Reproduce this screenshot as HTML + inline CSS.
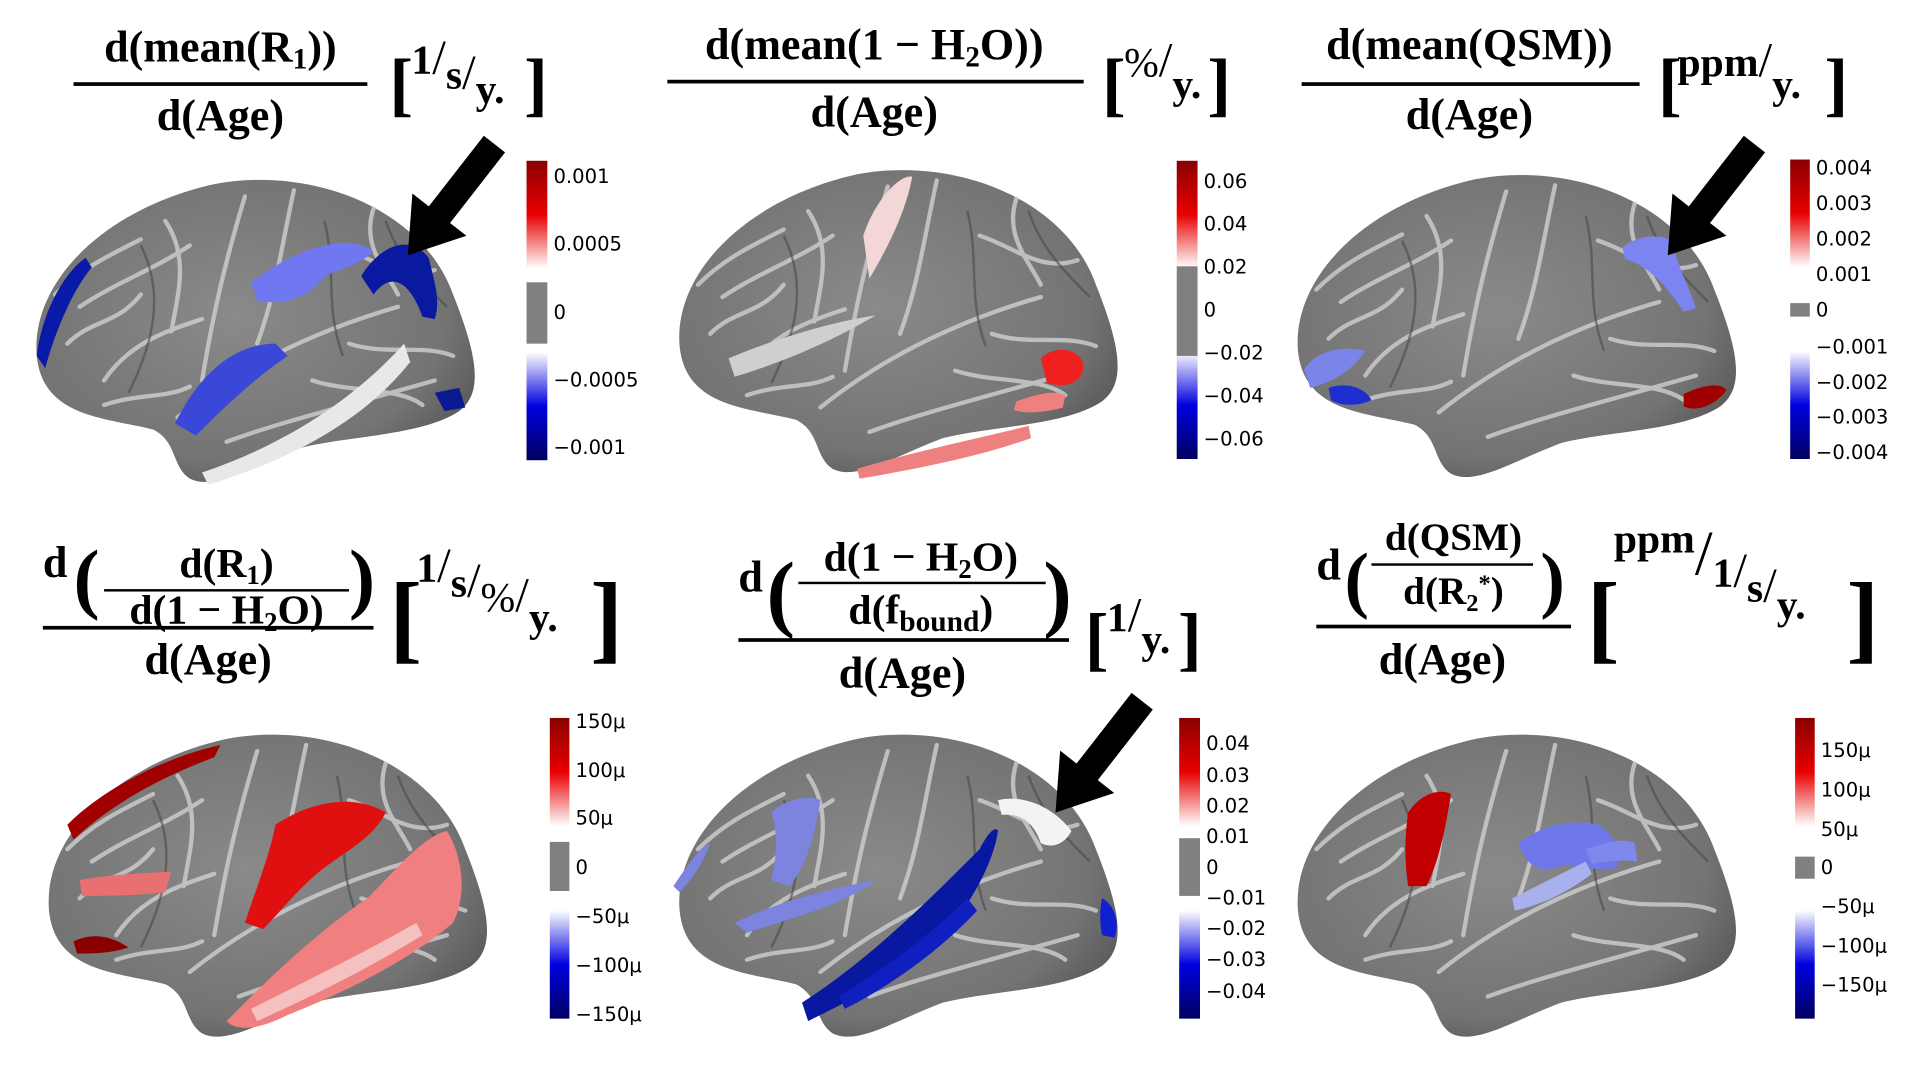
<!DOCTYPE html>
<html><head><meta charset="utf-8"><style>
html,body{margin:0;padding:0;background:#fff;width:1920px;height:1080px;overflow:hidden}
svg{display:block}
.t{font-family:"Liberation Serif",serif;font-weight:bold;fill:#000}
.c{font-family:"DejaVu Sans","Liberation Sans",sans-serif;font-size:16px;fill:#000}
</style></head><body>
<svg width="1920" height="1080" viewBox="0 0 1568 880" preserveAspectRatio="none" xmlns="http://www.w3.org/2000/svg">
<defs>
<radialGradient id="bg" cx="45%" cy="45%" r="60%">
<stop offset="0" stop-color="#8a8a8a"/><stop offset="0.8" stop-color="#747474"/><stop offset="1" stop-color="#5e5e5e"/></radialGradient>
<linearGradient id="cb" x1="0" y1="0" x2="0" y2="1">
<stop offset="0" stop-color="#8a0000"/><stop offset="0.18" stop-color="#e80000"/><stop offset="0.36" stop-color="#ffffff"/>
<stop offset="0.64" stop-color="#ffffff"/><stop offset="0.82" stop-color="#0000e0"/><stop offset="1" stop-color="#000060"/></linearGradient>
<g id="brain">
<path d="M5,150 C0,90 60,30 150,10 C230,-5 320,30 345,100 C365,150 370,180 350,195 C320,215 260,215 220,225 C180,240 150,260 130,250 C115,240 120,220 100,210 C60,200 10,200 5,150 Z" fill="url(#bg)"/>
<g fill="none" stroke="#d0d0d0" stroke-width="3.5" stroke-linecap="round" opacity="0.8">
<path d="M120,200 C170,160 230,130 300,110"/>
<path d="M175,20 C160,70 150,110 140,170"/>
<path d="M215,15 C205,60 200,100 185,140"/>
<path d="M40,110 C70,90 100,80 130,60"/>
<path d="M60,170 C80,140 110,130 140,120"/>
<path d="M250,60 C280,70 300,90 330,80"/>
<path d="M160,220 C200,205 260,190 330,170"/>
<path d="M30,140 C50,120 70,125 90,100"/>
<path d="M260,140 C290,150 320,140 345,150"/>
<path d="M20,100 C40,80 60,70 90,55"/>
<path d="M110,40 C130,70 120,100 115,130"/>
<path d="M230,170 C260,180 300,175 320,190"/>
<path d="M280,30 C270,60 290,80 300,100"/>
<path d="M60,190 C90,180 110,185 130,175"/>
</g>
<g fill="none" stroke="#4a4a4a" stroke-width="2" opacity="0.6">
<path d="M90,60 C110,100 100,140 80,180"/>
<path d="M240,40 C250,80 240,110 255,150"/>
<path d="M290,40 C300,70 320,90 340,110"/>
</g>
</g>
<g id="arrow"><path d="M0,0 L-28,-42 L-11,-42 L-11,-115 L11,-115 L11,-42 L28,-42 Z" fill="#000"/></g>
</defs>
<rect width="1568" height="880" fill="#fff"/>

<!-- Titles row 1 -->
<text class="t" x="180" y="50" font-size="36" text-anchor="middle">d(mean(R<tspan font-size="24" dy="6">1</tspan><tspan dy="-6">))</tspan></text>
<rect x="60" y="67" width="240" height="3" fill="#000"/>
<text class="t" x="180" y="106" font-size="36" text-anchor="middle">d(Age)</text>
<text class="t" x="318" y="88" font-size="58" font-weight="normal">[</text>
<text class="t" x="336" y="60" font-size="34"><tspan>1</tspan><tspan font-weight="normal" font-size="40">/</tspan><tspan dy="12">s</tspan><tspan font-weight="normal" font-size="40" dy="0">/</tspan><tspan dy="12">y.</tspan></text>
<text class="t" x="428" y="88" font-size="58" font-weight="normal">]</text>

<text class="t" x="714" y="48" font-size="36" text-anchor="middle">d(mean(1 − H<tspan font-size="24" dy="6">2</tspan><tspan dy="-6">O))</tspan></text>
<rect x="545" y="65" width="340" height="3" fill="#000"/>
<text class="t" x="714" y="103" font-size="36" text-anchor="middle">d(Age)</text>
<text class="t" x="900" y="88" font-size="58" font-weight="normal">[</text>
<text class="t" x="918" y="62" font-size="34"><tspan font-weight="normal">%</tspan><tspan font-weight="normal" font-size="40">/</tspan><tspan dy="18">y.</tspan></text>
<text class="t" x="986" y="88" font-size="58" font-weight="normal">]</text>

<text class="t" x="1200" y="48" font-size="36" text-anchor="middle">d(mean(QSM))</text>
<rect x="1063" y="67" width="276" height="3" fill="#000"/>
<text class="t" x="1200" y="105" font-size="36" text-anchor="middle">d(Age)</text>
<text class="t" x="1354" y="88" font-size="58" font-weight="normal">[</text>
<text class="t" x="1370" y="62" font-size="34"><tspan>ppm</tspan><tspan font-weight="normal" font-size="40">/</tspan><tspan dy="18">y.</tspan></text>
<text class="t" x="1490" y="88" font-size="58" font-weight="normal">]</text>

<!-- Titles row 2 -->
<text class="t" x="35" y="470" font-size="36">d</text>
<text class="t" x="60" y="492" font-size="64" font-weight="normal">(</text>
<text class="t" x="185" y="470" font-size="34" text-anchor="middle">d(R<tspan font-size="22" dy="6">1</tspan><tspan dy="-6">)</tspan></text>
<rect x="85" y="480" width="200" height="2" fill="#000"/>
<text class="t" x="185" y="508" font-size="34" text-anchor="middle">d(1 − H<tspan font-size="22" dy="6">2</tspan><tspan dy="-6">O)</tspan></text>
<text class="t" x="285" y="492" font-size="64" font-weight="normal">)</text>
<rect x="35" y="510" width="270" height="3" fill="#000"/>
<text class="t" x="170" y="549" font-size="36" text-anchor="middle">d(Age)</text>
<text class="t" x="318" y="530" font-size="80" font-weight="normal">[</text>
<text class="t" x="340" y="474" font-size="34"><tspan>1</tspan><tspan font-weight="normal" font-size="40">/</tspan><tspan dy="12">s</tspan><tspan font-weight="normal" font-size="40">/</tspan><tspan dy="12" font-weight="normal">%</tspan><tspan font-weight="normal" font-size="40">/</tspan><tspan dy="16">y.</tspan></text>
<text class="t" x="482" y="530" font-size="80" font-weight="normal">]</text>

<text class="t" x="603" y="482" font-size="36">d</text>
<text class="t" x="626" y="506" font-size="70" font-weight="normal">(</text>
<text class="t" x="752" y="465" font-size="34" text-anchor="middle">d(1 − H<tspan font-size="22" dy="6">2</tspan><tspan dy="-6">O)</tspan></text>
<rect x="652" y="474" width="202" height="2" fill="#000"/>
<text class="t" x="752" y="508" font-size="34" text-anchor="middle">d(f<tspan font-size="24" dy="6">bound</tspan><tspan dy="-6">)</tspan></text>
<text class="t" x="852" y="506" font-size="70" font-weight="normal">)</text>
<rect x="603" y="520" width="270" height="3" fill="#000"/>
<text class="t" x="737" y="560" font-size="36" text-anchor="middle">d(Age)</text>
<text class="t" x="886" y="540" font-size="58" font-weight="normal">[</text>
<text class="t" x="904" y="514" font-size="34"><tspan>1</tspan><tspan font-weight="normal" font-size="40">/</tspan><tspan dy="18">y.</tspan></text>
<text class="t" x="962" y="540" font-size="58" font-weight="normal">]</text>

<text class="t" x="1075" y="472" font-size="36">d</text>
<text class="t" x="1098" y="492" font-size="60" font-weight="normal">(</text>
<text class="t" x="1187" y="448" font-size="32" text-anchor="middle">d(QSM)</text>
<rect x="1120" y="459" width="132" height="2" fill="#000"/>
<text class="t" x="1187" y="492" font-size="32" text-anchor="middle">d(R<tspan font-size="20" dy="6">2</tspan><tspan font-size="20" dy="-16">*</tspan><tspan dy="10">)</tspan></text>
<text class="t" x="1258" y="492" font-size="60" font-weight="normal">)</text>
<rect x="1075" y="509" width="208" height="3" fill="#000"/>
<text class="t" x="1178" y="549" font-size="36" text-anchor="middle">d(Age)</text>
<text class="t" x="1296" y="530" font-size="80" font-weight="normal">[</text>
<text class="t" x="1318" y="450" font-size="34"><tspan>ppm</tspan><tspan font-weight="normal" font-size="52" dy="18">/</tspan><tspan dy="10">1</tspan><tspan font-weight="normal" font-size="40">/</tspan><tspan dy="12">s</tspan><tspan font-weight="normal" font-size="40">/</tspan><tspan dy="14">y.</tspan></text>
<text class="t" x="1508" y="530" font-size="80" font-weight="normal">]</text>

<!-- Brains -->
<g transform="translate(25,140)"><use href="#brain"/>
<path d="M5,150 C10,110 30,80 45,70 L50,78 C35,95 20,130 12,160 Z" fill="#0a1aa8"/>
<path d="M180,90 C220,60 260,50 280,65 C270,75 250,80 240,85 C230,100 210,110 185,105 Z" fill="#6f78f0"/>
<path d="M270,85 C285,60 310,50 325,70 C330,90 335,105 330,120 L320,118 C310,90 295,80 280,100 Z" fill="#0a1aa0"/>
<path d="M118,205 C140,160 170,140 200,140 L210,150 C180,170 150,200 135,215 Z" fill="#3a48d8"/>
<path d="M140,245 C200,225 260,190 305,140 L310,155 C270,205 210,235 145,255 Z" fill="#e8e8e8"/>
<path d="M330,180 L350,176 L355,192 L338,195 Z" fill="#0a1a90"/>
</g>
<g transform="translate(550,132)"><use href="#brain"/>
<path d="M155,60 C165,30 185,10 195,12 C190,40 175,70 160,95 Z" fill="#f3d6d6"/>
<path d="M45,160 C80,145 130,130 165,125 C140,140 100,160 50,175 Z" fill="#cfcfcf"/>
<path d="M300,160 C310,150 330,150 335,165 C335,180 320,185 305,180 Z" fill="#ee2020"/>
<path d="M150,250 C200,235 250,225 290,215 L292,225 C250,240 200,250 152,258 Z" fill="#ee8080"/>
<path d="M280,195 C295,190 310,185 320,190 L318,200 C300,205 285,205 278,202 Z" fill="#ee8080"/>
</g>
<g transform="translate(1055,136)"><use href="#brain"/>
<path d="M270,65 C285,55 300,55 310,60 C315,80 325,100 330,115 L320,118 C305,95 290,80 272,75 Z" fill="#7b84f0"/>
<path d="M10,165 C20,150 40,145 60,150 C50,165 35,175 15,180 Z" fill="#7b84e8"/>
<path d="M30,180 C45,175 60,180 65,190 C55,195 40,195 32,190 Z" fill="#1e2ed0"/>
<path d="M320,185 C335,178 350,175 355,182 C345,195 330,200 320,195 Z" fill="#a00000"/>
</g>
<g transform="translate(35,592)"><use href="#brain"/>
<path d="M20,80 C50,50 100,25 145,15 L140,25 C100,40 60,60 25,92 Z" fill="#a00000"/>
<path d="M30,125 C60,120 80,120 105,118 L100,135 C75,138 50,138 32,138 Z" fill="#e87070"/>
<path d="M190,80 C220,60 255,55 280,70 C270,90 250,100 230,115 C210,130 195,150 180,165 L165,160 C175,130 185,105 190,80 Z" fill="#e01010"/>
<path d="M150,240 C180,210 220,170 265,140 C290,115 310,90 330,85 C345,110 345,140 335,160 C300,190 250,215 200,235 C180,245 160,250 150,240 Z" fill="#f08080"/>
<path d="M170,230 C220,205 270,180 305,160 L310,170 C270,195 220,220 175,240 Z" fill="#f5c0c0"/>
<path d="M25,175 C40,168 55,170 70,180 C55,185 40,185 28,185 Z" fill="#8a0000"/>
</g>
<g transform="translate(550,592)"><use href="#brain"/>
<path d="M80,70 C90,60 110,55 120,60 C115,90 110,110 95,130 L80,125 C85,105 85,85 80,70 Z" fill="#7c84e0"/>
<path d="M0,130 C10,115 20,100 30,95 C25,110 15,125 5,135 Z" fill="#7c84e0"/>
<path d="M50,160 C90,140 140,130 165,125 C140,145 100,155 60,168 Z" fill="#7c84e0"/>
<path d="M105,225 C160,190 210,140 250,100 C255,90 262,80 265,85 C260,120 230,165 200,190 C170,210 140,225 110,240 Z" fill="#0818a0"/>
<path d="M135,220 C175,195 210,170 240,140 L248,150 C220,180 180,210 140,230 Z" fill="#1020c0"/>
<path d="M265,60 C285,55 310,65 325,85 C320,95 310,100 300,95 C295,80 285,70 268,72 Z" fill="#f3f3f3"/>
<path d="M350,140 C360,145 365,160 360,172 L350,170 C348,160 348,150 350,140 Z" fill="#1020d0"/>
</g>
<g transform="translate(1055,592)"><use href="#brain"/>
<path d="M95,70 C105,55 120,50 130,55 C125,85 120,110 110,130 L95,130 C92,110 92,90 95,70 Z" fill="#c00000"/>
<path d="M185,95 C205,80 230,75 250,80 C265,90 270,100 265,115 C250,120 230,110 215,115 C200,120 190,110 185,95 Z" fill="#6f78e8"/>
<path d="M240,100 C255,95 270,90 280,95 L282,110 C270,108 255,110 245,112 Z" fill="#7f88ec"/>
<path d="M180,140 C200,130 220,120 240,110 L245,120 C225,135 205,145 182,150 Z" fill="#a8b0ee"/>
</g>

<!-- Arrows (pointing down-left) -->
<use href="#arrow" transform="translate(333,208) rotate(38)"/>
<use href="#arrow" transform="translate(1362,208) rotate(38)"/>
<use href="#arrow" transform="translate(862,662) rotate(38)"/>

<!-- Colorbars -->
<g><rect x="430" y="131" width="17" height="244" fill="url(#cb)"/><rect x="430" y="230" width="17" height="50" fill="#808080"/>
<g class="c"><text x="452" y="149">0.001</text><text x="452" y="204">0.0005</text><text x="452" y="260">0</text><text x="452" y="315">−0.0005</text><text x="452" y="370">−0.001</text></g></g>
<g><rect x="961" y="131" width="17" height="243" fill="url(#cb)"/><rect x="961" y="217" width="17" height="73" fill="#808080"/>
<g class="c"><text x="983" y="153">0.06</text><text x="983" y="188">0.04</text><text x="983" y="223">0.02</text><text x="983" y="258">0</text><text x="983" y="293">−0.02</text><text x="983" y="328">−0.04</text><text x="983" y="363">−0.06</text></g></g>
<g><rect x="1462" y="130" width="16" height="244" fill="url(#cb)"/><rect x="1462" y="247" width="16" height="11" fill="#808080"/>
<g class="c"><text x="1483" y="142">0.004</text><text x="1483" y="171">0.003</text><text x="1483" y="200">0.002</text><text x="1483" y="229">0.001</text><text x="1483" y="258">0</text><text x="1483" y="288">−0.001</text><text x="1483" y="317">−0.002</text><text x="1483" y="345">−0.003</text><text x="1483" y="374">−0.004</text></g></g>
<g><rect x="449" y="585" width="16" height="245" fill="url(#cb)"/><rect x="449" y="686" width="16" height="40" fill="#808080"/>
<g class="c"><text x="470" y="593">150μ</text><text x="470" y="633">100μ</text><text x="470" y="672">50μ</text><text x="470" y="712">0</text><text x="470" y="752">−50μ</text><text x="470" y="792">−100μ</text><text x="470" y="832">−150μ</text></g></g>
<g><rect x="963" y="585" width="17" height="245" fill="url(#cb)"/><rect x="963" y="683" width="17" height="47" fill="#808080"/>
<g class="c"><text x="985" y="611">0.04</text><text x="985" y="637">0.03</text><text x="985" y="662">0.02</text><text x="985" y="687">0.01</text><text x="985" y="712">0</text><text x="985" y="737">−0.01</text><text x="985" y="762">−0.02</text><text x="985" y="787">−0.03</text><text x="985" y="813">−0.04</text></g></g>
<g><rect x="1466" y="585" width="16" height="245" fill="url(#cb)"/><rect x="1466" y="698" width="16" height="18" fill="#808080"/>
<g class="c"><text x="1487" y="617">150μ</text><text x="1487" y="649">100μ</text><text x="1487" y="681">50μ</text><text x="1487" y="712">0</text><text x="1487" y="744">−50μ</text><text x="1487" y="776">−100μ</text><text x="1487" y="808">−150μ</text></g></g>
</svg>
</body></html>
